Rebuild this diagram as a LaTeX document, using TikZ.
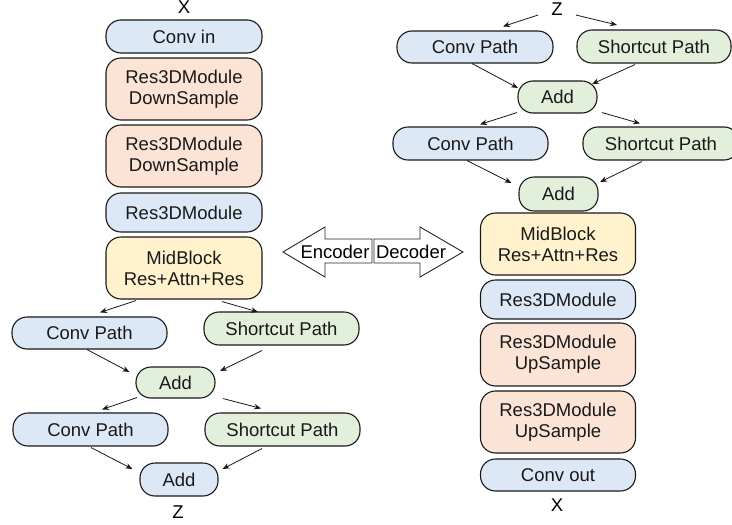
\documentclass[tikz,border=0pt]{standalone}
\usepackage{fontspec}
\setmainfont{Liberation Sans}
\usetikzlibrary{arrows.meta,calc}
\definecolor{cblue}{HTML}{DCE8F6}
\definecolor{cpeach}{HTML}{FBE3D6}
\definecolor{cyellow}{HTML}{FFF2CC}
\definecolor{cgreen}{HTML}{E2EFDA}
\tikzset{
  box/.style={draw=black!90, line width=1.1pt, rounded corners=15pt, inner sep=0pt,
    align=center, font=\fontsize{18.5}{21}\selectfont, text=black!90},
  bluebox/.style={box, fill=cblue},
  peachbox/.style={box, fill=cpeach},
  yellowbox/.style={box, fill=cyellow},
  greenbox/.style={box, fill=cgreen},
  lbl/.style={inner sep=0pt, font=\fontsize{18.5}{21}\selectfont},
  arr/.style={-{Stealth[length=7pt,width=5.5pt]}, line width=0.8pt, black!90},
  bigarrow/.style={draw=black!85, line width=0.9pt, fill=white},
}
\begin{document}
\begin{tikzpicture}[x=1pt,y=-1pt]
\useasboundingbox (0,0) rectangle (732,525);
% ---------------- left column (encoder) ----------------
\node[lbl] (xin) at (184,7) {X};
\node[bluebox, minimum width=156pt, minimum height=33pt] (convin) at (184,36.5) {Conv in};
\node[peachbox, minimum width=156pt, minimum height=62pt] (ds1) at (184,89) {Res3DModule\\DownSample};
\node[peachbox, minimum width=156pt, minimum height=62pt] (ds2) at (184,156) {Res3DModule\\DownSample};
\node[bluebox, minimum width=156pt, minimum height=39pt] (res) at (184,212.5) {Res3DModule};
\node[yellowbox, minimum width=156pt, minimum height=62pt] (mid) at (184,268) {MidBlock\\Res+Attn+Res};
\node[bluebox, minimum width=155pt, minimum height=32pt] (cp1) at (89.5,333) {Conv Path};
\node[greenbox, minimum width=155pt, minimum height=33pt] (sp1) at (281.5,328.5) {Shortcut Path};
\node[greenbox, minimum width=79pt, minimum height=31pt] (add1) at (175.5,382.5) {Add};
\node[bluebox, minimum width=155pt, minimum height=33pt] (cp2) at (90.5,429.5) {Conv Path};
\node[greenbox, minimum width=155pt, minimum height=33pt] (sp2) at (282.5,429.5) {Shortcut Path};
\node[bluebox, minimum width=78pt, minimum height=33pt] (add2) at (179,479.5) {Add};
\node[lbl] (zout) at (178,512) {Z};

\draw[arr] ($(mid.south)+(-48,1)$) -- ($(cp1.north)+(10.5,-4)$);
\draw[arr] ($(mid.south)+(38,2)$) -- ($(sp1.north)+(-23.5,0.5)$);
\draw[arr] ($(cp1.south)+(-2.5,0)$) -- ($(add1.west)+(-6,-10.5)$);
\draw[arr] ($(sp1.south)+(-19.5,5)$) -- ($(add1.east)+(4.5,-11.5)$);
\draw[arr] ($(add1.south)+(-38.5,-1)$) -- ($(cp2.north)+(11.5,-3)$);
\draw[arr] ($(add1.south)+(47.5,0)$) -- ($(sp2.north)+(-21.5,-4)$);
\draw[arr] ($(cp2.south)+(0.5,1)$) -- ($(add2.west)+(-7,-10.5)$);
\draw[arr] ($(sp2.south)+(-20.5,2)$) -- ($(add2.east)+(4,-10.5)$);

% ---------------- right column (decoder) ----------------
\node[lbl] (zin) at (557,9) {Z};
\node[bluebox, minimum width=156pt, minimum height=32pt] (rcp1) at (475,47) {Conv Path};
\node[greenbox, minimum width=154pt, minimum height=33pt] (rsp1) at (654,46.5) {Shortcut Path};
\node[greenbox, minimum width=79pt, minimum height=32pt] (radd1) at (557.5,97) {Add};
\node[bluebox, minimum width=155pt, minimum height=33pt] (rcp2) at (470.5,143.5) {Conv Path};
\node[greenbox, minimum width=156pt, minimum height=33pt] (rsp2) at (661,143.5) {Shortcut Path};
\node[greenbox, minimum width=79pt, minimum height=34pt] (radd2) at (558.5,194) {Add};
\node[yellowbox, minimum width=155pt, minimum height=62pt] (rmid) at (558,244) {MidBlock\\Res+Attn+Res};
\node[bluebox, minimum width=155pt, minimum height=39pt] (rres) at (558,299.5) {Res3DModule};
\node[peachbox, minimum width=155pt, minimum height=63pt] (up1) at (558,354.5) {Res3DModule\\UpSample};
\node[peachbox, minimum width=155pt, minimum height=62pt] (up2) at (558,422) {Res3DModule\\UpSample};
\node[bluebox, minimum width=155pt, minimum height=32pt] (convout) at (558,475) {Conv out};
\node[lbl] (xout) at (557,505) {X};

\draw[arr] ($(zin.west)+(-13,6)$) -- ($(rcp1.north)+(28,-4)$);
\draw[arr] ($(zin.east)+(13,6)$) -- ($(rsp1.north)+(-37,-4.5)$);
\draw[arr] ($(rcp1.south)+(-3,0)$) -- ($(radd1.west)+(0.5,-9)$);
\draw[arr] ($(rsp1.south)+(-19,1)$) -- ($(radd1.east)+(-5.5,-13)$);
\draw[arr] ($(radd1.south)+(-40.5,-1)$) -- ($(rcp2.north)+(9.5,-2)$);
\draw[arr] ($(radd1.south)+(44.5,-1)$) -- ($(rsp2.north)+(-21,-3)$);
\draw[arr] ($(rcp2.south)+(-3.5,0)$) -- ($(radd2.west)+(-7,-11)$);
\draw[arr] ($(rsp2.south)+(-19,1)$) -- ($(radd2.east)+(1.5,-12)$);

% ---------------- encoder / decoder arrows ----------------
\draw[bigarrow] (283,252) -- (325,227) -- (325,239) -- (372,239) -- (372,263) -- (325,263) -- (325,277) -- cycle;
\draw[bigarrow] (374,239) -- (420,239) -- (420,227) -- (463,252) -- (420,277) -- (420,263) -- (374,263) -- cycle;
\node[lbl] (enc) at (335,252) {Encoder};
\node[lbl] (dec) at (411,252) {Decoder};
\end{tikzpicture}
\end{document}
